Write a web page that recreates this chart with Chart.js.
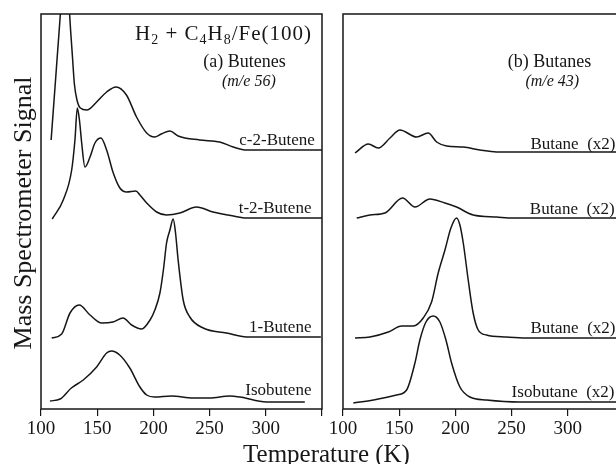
<!DOCTYPE html>
<html>
<head>
<meta charset="utf-8">
<script src="https://cdn.jsdelivr.net/npm/chart.js@4.4.1/dist/chart.umd.min.js"></script>
<style>
  html, body { margin: 0; padding: 0; background: #fff; overflow: hidden; }
  #wrap { position: relative; width: 616px; height: 464px; overflow: hidden; }
  canvas { position: absolute; top: 0; }
  #butenes { left: 0; }
  #butanes { left: 313px; }
  .axis-title {
    position: absolute; white-space: nowrap; text-align: center; color: #161616;
    font-family: "Liberation Serif", "Times New Roman", serif;
  }
  #xTitle { left: 0; width: 653px; top: 441px; font-size: 25px; line-height: 25px; }
  #yTitle { left: -127px; top: 198px; width: 300px; height: 30px; font-size: 26px; line-height: 30px; transform: rotate(-90deg); }
</style>
</head>
<body>
<div id="wrap">
  <canvas id="butenes" width="333" height="464"></canvas>
  <canvas id="butanes" width="320" height="464"></canvas>
  <div id="xTitle" class="axis-title">Temperature (K)</div>
  <div id="yTitle" class="axis-title">Mass Spectrometer Signal</div>
</div>
<script>
// temperature axis ticks (K)
const tempTicks = [100, 150, 200, 250, 300, 350];

// (a) butenes, m/e 56 -- traces are offset-stacked, arbitrary units
const c2ButeneT = [109, 113, 116, 119, 121.5, 124, 126.5, 128, 129.7, 132, 135, 140.8, 149.5, 158.4, 166.7, 176, 185, 194, 201, 207, 214.7, 222, 241, 259, 271, 283, 351];
const c2ButeneS = [269, 330, 376, 418, 430, 418, 376, 352, 325, 309, 301, 299, 307, 317, 322, 314, 292, 276, 272, 275, 278, 273, 269, 267, 262, 259, 259];

const t2ButeneT = [110, 119.8, 127.3, 130.2, 132.3, 134.3, 136.2, 139.1, 143.6, 148, 153.3, 158.4, 164.3, 170.2, 176.2, 184.4, 188, 194, 202.8, 211.7, 223.6, 238.4, 253, 271, 283, 351];
const t2ButeneS = [190, 209, 239, 269, 301, 288, 266, 242, 252, 266, 271, 259, 236, 221, 217, 218, 214, 206, 197, 194, 196, 202, 197, 193, 191, 191];

const butene1T = [109.5, 118.4, 125.8, 134, 143.6, 154, 164, 173, 180.6, 189.5, 197, 201.3, 205.8, 209, 211.7, 214.7, 217.6, 219.6, 222, 226.5, 232.4, 244.3, 265, 283, 349];
const butene1S = [71, 75, 96, 104, 94, 86, 87, 91, 84, 80, 89, 99, 116, 140, 166, 179, 190, 177, 149, 109, 92, 81, 76, 72, 72];

const isobuteneT = [108, 117, 127, 137.6, 149.5, 158.4, 162.8, 170, 179, 188, 194, 201, 216, 235.4, 250, 268, 277, 300.6, 334.7];
const isobuteneS = [8, 10, 21, 29, 42, 56, 58, 54, 41, 22, 14, 12, 13, 11, 11, 13, 12, 7, 7];

// (b) butanes, m/e 43 (x2)
const butaneAT = [110.7, 122.5, 131.4, 141.8, 150.7, 165.5, 175.8, 183.3, 192.2, 207, 221.8, 236.6, 350];
const butaneAS = [256, 265, 261, 271, 279, 272, 276, 267, 263, 262, 259, 257, 257];

const butaneBT = [112.2, 124, 137.3, 153, 164, 177.3, 190.7, 201, 215.8, 236.6, 251.4, 350];
const butaneBS = [191, 194, 196, 211, 202, 210, 206, 202, 194, 192, 191, 191];

const butaneCT = [110.7, 124, 140.3, 152.2, 162.5, 171.4, 178.8, 184.7, 190.7, 196, 201, 204, 207, 211.4, 215.8, 220.3, 227.7, 245.5, 263, 350];
const butaneCS = [71, 72, 77, 83, 83, 91, 107, 136, 159, 181, 191, 184, 166, 129, 96, 79, 74, 72, 71, 71];

const isobutaneT = [109.2, 127, 147.7, 156.6, 164, 168.4, 173.8, 180.3, 186.2, 191.6, 196.6, 204, 212.9, 227.7, 257.3, 350];
const isobutaneS = [6, 9, 14, 19, 46, 69, 87, 93, 87, 69, 46, 22, 12, 9, 7, 7];

const serif = '"Liberation Serif", "Times New Roman", serif';
const ink = '#161616';

const toPoints = (ts, ss) => ts.map((t, i) => ({ x: t, y: ss[i] }));

function traces(pairs) {
  return pairs.map(([ts, ss]) => ({
    data: toPoints(ts, ss),
    borderColor: ink,
    borderWidth: 1.5,
    pointRadius: 0,
    cubicInterpolationMode: 'monotone',
    fill: false
  }));
}

// box around the plot area
const frame = {
  id: 'frame',
  afterDatasetsDraw(chart) {
    const { ctx, chartArea: a } = chart;
    ctx.save();
    ctx.strokeStyle = ink;
    ctx.lineWidth = 1.5;
    ctx.strokeRect(a.left, a.top, a.right - a.left, a.bottom - a.top);
    ctx.restore();
  }
};

// text placed at (temperature, signal) positions
const notes = {
  id: 'notes',
  afterDraw(chart, args, opts) {
    const { ctx, scales: { x, y } } = chart;
    ctx.save();
    ctx.fillStyle = ink;
    ctx.textBaseline = 'alphabetic';
    for (const n of opts.items || []) {
      ctx.font = n.font;
      ctx.textAlign = n.align || 'left';
      ctx.fillText(n.text, x.getPixelForValue(n.t), y.getPixelForValue(n.s));
    }
    if (opts.formula) {
      const f = opts.formula;
      let px = x.getPixelForValue(f.t);
      const py = y.getPixelForValue(f.s);
      ctx.textAlign = 'left';
      ctx.letterSpacing = '1px';
      for (const [txt, sub] of f.parts) {
        ctx.font = sub ? '14px ' + serif : '21px ' + serif;
        ctx.fillText(txt, px, py + (sub ? 4 : 0));
        px += ctx.measureText(txt).width;
      }
    }
    ctx.restore();
  }
};

function makeChart(id, datasets, padding, noteOpts) {
  return new Chart(document.getElementById(id), {
    type: 'line',
    data: { datasets },
    options: {
      responsive: false,
      animation: false,
      devicePixelRatio: 1,
      events: [],
      layout: { padding },
      plugins: { legend: { display: false }, tooltip: { enabled: false }, notes: noteOpts },
      scales: {
        x: {
          type: 'linear', min: 100, max: 350,
          afterBuildTicks: s => { s.ticks = tempTicks.map(v => ({ value: v })); },
          afterFit: s => { s.height = 40; },
          border: { display: false },
          grid: { drawOnChartArea: false, drawTicks: true, tickLength: 7, color: ink, lineWidth: 1.2 },
          ticks: {
            padding: 2, maxRotation: 0, autoSkip: false, color: ink,
            font: { family: serif, size: 19 },
            callback: v => (v === 350 ? '' : String(v))
          }
        },
        y: { type: 'linear', min: 0, max: 395, display: false }
      }
    },
    plugins: [frame, notes]
  });
}

makeChart('butenes',
  traces([[c2ButeneT, c2ButeneS], [t2ButeneT, t2ButeneS], [butene1T, butene1S], [isobuteneT, isobuteneS]]),
  { left: 41, top: 14, right: 11, bottom: 15 },
  {
    formula: { t: 183.6, s: 369.5, parts: [['H', 0], ['2', 1], [' + C', 0], ['4', 1], ['H', 0], ['8', 1], ['/Fe(100)', 0]] },
    items: [
      { text: '(a) Butenes', t: 281, s: 342, align: 'center', font: '18px ' + serif },
      { text: '(m/e 56)', t: 284.9, s: 323, align: 'center', font: 'italic 16px ' + serif },
      { text: 'c-2-Butene', t: 343.6, s: 264, align: 'right', font: '17px ' + serif },
      { text: 't-2-Butene', t: 340.6, s: 196, align: 'right', font: '17px ' + serif },
      { text: '1-Butene', t: 340.6, s: 77, align: 'right', font: '17px ' + serif },
      { text: 'Isobutene', t: 340.6, s: 14, align: 'right', font: '17px ' + serif }
    ]
  });

makeChart('butanes',
  traces([[butaneAT, butaneAS], [butaneBT, butaneBS], [butaneCT, butaneCS], [isobutaneT, isobutaneS]]),
  { left: 30, top: 14, right: 9, bottom: 15 },
  {
    items: [
      { text: '(b) Butanes', t: 283.7, s: 342, align: 'center', font: '18px ' + serif },
      { text: '(m/e 43)', t: 286.2, s: 323, align: 'center', font: 'italic 16px ' + serif },
      { text: 'Butane\u00a0\u00a0(x2)', t: 266.8, s: 260, font: '17px ' + serif },
      { text: 'Butane\u00a0\u00a0(x2)', t: 266.2, s: 195, font: '17px ' + serif },
      { text: 'Butane\u00a0\u00a0(x2)', t: 266.8, s: 76, font: '17px ' + serif },
      { text: 'Isobutane\u00a0\u00a0(x2)', t: 250, s: 12, font: '17px ' + serif }
    ]
  });
</script>
</body>
</html>
